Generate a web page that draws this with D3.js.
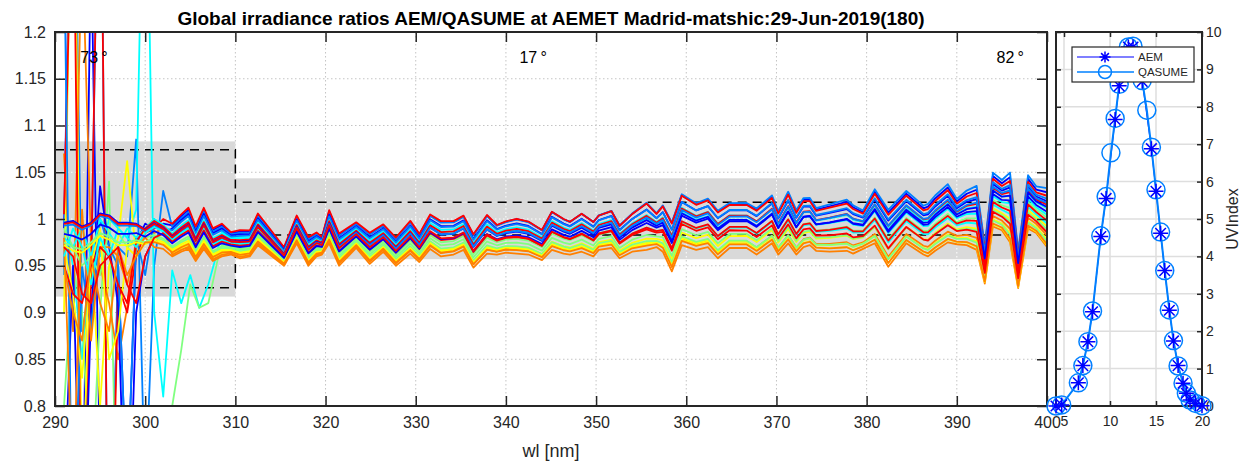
<!DOCTYPE html>
<html>
<head>
<meta charset="utf-8">
<script src="https://cdn.jsdelivr.net/npm/d3@7"></script>
<style>
  body { margin: 0; background: #fff; }
  text { font-family: "Liberation Sans", Arial, Helvetica, sans-serif; fill: #262626; }
</style>
</head>
<body>
<svg id="chart" width="1254" height="468"></svg>
<script>
// ---- ratio spectra: envelope of the bundle ----
const wlNodes  = [291,292,293,294,295,296,297,298,299,300,301,302,303,304,304.8,305.6,306.5,307.5,308.5,309.5,
  310.5,311.6,312.5,313.8,315.4,316.8,318.1,319.0,319.6,320.4,321.5,323.4,324.9,326.4,327.8,329.4,330.4,331.6,332.8,
  334.2,335.3,336.4,337.9,339.0,340.0,341.2,342.5,344.0,345.1,346.4,347.1,348.4,349.7,350.3,351.7,352.6,354.0,355.6,
  356.7,357.4,358.4,359.5,361.1,362.4,363.5,364.8,366.7,367.8,369.5,370.2,371.3,372.2,373.0,373.7,374.4,375.9,377.8,
  378.5,379.6,380.9,382.4,384.4,386.3,386.8,387.6,389.0,390.0,391.1,392.2,393.1,394.0,395.0,395.9,396.8,397.9,398.8,400.0];
const ratioTop = [1.02,1.03,1.02,1.02,1.03,1.03,1.02,1.02,1.015,1.005,1.013,1.005,0.995,1.005,1.012,0.992,1.012,0.990,0.995,0.986,
  0.988,0.988,1.006,0.990,0.970,1.004,0.981,0.986,0.981,1.010,0.985,0.997,0.986,0.995,0.981,0.999,0.985,1.006,0.999,
  0.999,1.005,0.985,1.006,0.995,0.999,1.002,0.999,0.990,1.010,1.002,0.999,1.008,0.999,1.006,1.011,0.995,1.008,1.020,
  1.008,1.017,0.999,1.029,1.019,1.024,1.011,1.019,1.019,1.013,1.027,1.010,1.031,1.011,1.024,1.024,1.013,1.017,1.022,
  1.016,1.010,1.033,1.011,1.031,1.015,1.017,1.026,1.038,1.022,1.031,1.036,0.972,1.050,1.042,1.050,0.966,1.047,1.035,1.033];
const ratioBot = [0.96,0.95,0.95,0.96,0.97,0.965,0.96,0.96,0.965,0.965,0.97,0.968,0.96,0.965,0.968,0.955,0.968,0.955,0.96,0.962,
  0.958,0.960,0.972,0.962,0.950,0.974,0.950,0.960,0.962,0.974,0.950,0.969,0.952,0.965,0.950,0.963,0.954,0.968,0.960,
  0.962,0.967,0.948,0.963,0.962,0.964,0.963,0.962,0.956,0.967,0.963,0.962,0.965,0.960,0.967,0.969,0.958,0.965,0.967,
  0.970,0.965,0.944,0.972,0.967,0.970,0.958,0.969,0.969,0.962,0.974,0.962,0.974,0.962,0.970,0.972,0.966,0.965,0.966,
  0.963,0.968,0.974,0.949,0.974,0.962,0.960,0.966,0.975,0.973,0.972,0.967,0.931,0.992,0.988,0.975,0.926,0.990,0.985,0.970];

// one entry per scan: colour, place in the bundle near 310 nm and near 400 nm (0 = bottom, 1 = top)
const jet7 = ["#0000ff","#0080ff","#00ffff","#80ff80","#ffff00","#ff8000","#ff0000"];
const scanColor  = [0,1,2,3,4,5,6,0,1,2,3,4,5,6,0,1,2,3,4,5,6,0,6];
const levelShort = [0.95,0.90,0.75,0.35,0.10,0.05,1.00,0.85,0.80,0.70,0.30,0.15,0.00,0.65,0.60,0.55,0.50,0.25,0.20,0.12,0.45,0.40,0.58];
const levelLong  = [0.93,1.00,0.66,0.50,0.35,0.20,0.87,0.78,0.82,0.55,0.30,0.13,0.00,0.72,0.60,0.75,0.40,0.10,0.03,0.05,0.45,0.68,0.25];
// noisy short-wavelength part of the low-sun scans, 1 nm steps from 291 nm
const noisyStart = 291;
const noisy = [
  [0.99,1.6,0.62,1.3,0.72,0.55,0.95,0.7,0.975,0.995,0.99,0.995],
  [0.94,2.2,0.88,0.93,1.5,0.5,0.97,0.96,1.085,0.7,0.95,1.03],
  [1.0,0.95,0.85,0.98,0.96,1.0,0.99,0.98,1.01,1.6,0.9,0.81,0.945,0.91,0.94,0.905,0.93,0.965],
  [0.8,0.95,0.9,0.7,0.9,1.04,0.6,0.72,0.6,0.55,0.65,0.74,0.80,0.86,0.93,0.905,0.91,0.955],
  [0.9,1.5,0.7,0.97,0.8,0.95,0.98,1.062,0.96,0.99,1.0,0.99],
  [1.07,0.88,1.3,0.97,0.95,0.91,0.85,0.905,0.98,0.99,0.985,0.99],
  [1.005,1.4,0.6,0.94,1.5,0.5,0.93,0.90,0.96,0.985,0.99,1.0],
  [0.7,0.95,0.6,0.9,1.035,0.97,0.91,0.6,0.9,0.96,0.98,0.985],
  [1.3,0.6,0.95,0.88,1.0,0.97,0.95,0.7,0.98,0.94,1.0,0.99],
  [0.98,0.97,0.99,0.96,1.0,0.985,0.97,0.99,0.98,0.99],
  [0.99,0.97,0.95,0.96,0.94,0.99,0.985,0.97,0.975,0.98],
  [0.97,0.92,0.83,0.95,0.99,0.85,0.88,0.97,0.96,0.975],
  [0.98,0.7,1.01,0.87,0.97,0.97,0.96,0.93,0.97,0.98],
  [0.95,0.92,0.91,0.95,0.97,0.96,0.93,0.91,0.975,0.99],
  null, null,
  [0.96,0.99,0.97,0.93,0.98,0.96,0.99,0.98,0.97,0.985],
  null, null,
  [0.95,0.90,0.87,0.96,0.91,0.88,0.97,0.94,0.96,0.975],
  [0.97,0.96,0.92,0.91,0.95,0.96,0.97,0.93,0.91,0.96,0.98],
  null, null
];

// limits: grey band and dashed line, for 290-310 and 310-400
const bandLo = [0.917, 0.957], bandHi = [1.083, 1.0435];
const dashLo = [0.9265, 0.983], dashHi = [1.074, 1.018];
const szaText = ["73\u2009°","17\u2009°","82\u2009°"];
const szaAt = [292.8, 341.5, 394.4];

// ---- UV index time series ----
const hours  = [4.13,4.75,6.56,7.05,7.6,8.1,9.0,9.58,10.1,10.56,11.0,12.0,12.5,13.5,14.0,14.5,15.0,15.5,15.95,16.45,16.9,17.4,17.94,18.3,18.7,19.3,20.0];
const uvQas  = [0.0,0.03,0.62,1.08,1.72,2.54,4.55,5.6,6.77,7.69,8.6,9.6,9.62,8.7,7.91,6.92,5.78,4.65,3.62,2.57,1.75,1.07,0.61,0.34,0.16,0.07,0.01];
const uvAem  = [0.0,0.03,0.62,1.08,1.72,2.52,4.53,5.55,null,7.66,8.56,9.6,9.6,8.68,null,6.88,5.74,4.62,3.62,2.56,1.74,1.08,0.61,0.34,0.16,0.07,0.01];

const xTicks = [290,300,310,320,330,340,350,360,370,380,390,400];
const yTicks = [0.8,0.85,0.9,0.95,1,1.05,1.1,1.15,1.2];

//--------------------------------------
const svg = d3.select("#chart");
const M = {left: 55, right: 1047, top: 32, bottom: 406};
const R = {left: 1056, right: 1202};
const axisCol = "#262626";

let x = d3.scaleLinear().domain([290, 400]).range([M.left, M.right]);
let y = d3.scaleLinear().domain([0.8, 1.2]).range([M.bottom, M.top]);

svg.append("clipPath").attr("id", "clipMain")
  .append("rect").attr("x", M.left).attr("y", M.top)
  .attr("width", M.right - M.left).attr("height", M.bottom - M.top);

// band rects
let bands = [[290, 310, 0], [310, 400, 1]];
svg.append("clipPath").attr("id", "clipBand").selectAll("rect")
  .data(bands).enter().append("rect")
  .attr("x", d => x(d[0])).attr("width", d => x(d[1]) - x(d[0]))
  .attr("y", d => y(bandHi[d[2]])).attr("height", d => y(bandLo[d[2]]) - y(bandHi[d[2]]));

function drawGrid(g, col) {
  g.selectAll(".gx").data(xTicks.slice(1, -1)).enter().append("line")
    .attr("x1", d => x(d)).attr("x2", d => x(d)).attr("y1", M.top).attr("y2", M.bottom);
  g.selectAll(".gy").data(yTicks.slice(1, -1)).enter().append("line")
    .attr("y1", d => y(d)).attr("y2", d => y(d)).attr("x1", M.left).attr("x2", M.right);
  g.selectAll("line").attr("stroke", col).attr("stroke-width", 1).attr("stroke-dasharray", "1.5,2.5");
}
drawGrid(svg.append("g"), "#c4c4c4");

svg.append("g").selectAll("rect").data(bands).enter().append("rect")
  .attr("x", d => x(d[0])).attr("width", d => x(d[1]) - x(d[0]))
  .attr("y", d => y(bandHi[d[2]])).attr("height", d => y(bandLo[d[2]]) - y(bandHi[d[2]]))
  .attr("fill", "#d9d9d9");
drawGrid(svg.append("g").attr("clip-path", "url(#clipBand)"), "#ffffff");

// dashed limits
let stair = d3.line().x(d => x(d[0])).y(d => y(d[1]));
[dashHi, dashLo].forEach(function(lim) {
  svg.append("path")
    .attr("d", stair([[290, lim[0]], [310, lim[0]], [310, lim[1]], [400, lim[1]]]))
    .attr("fill", "none").attr("stroke", "#000").attr("stroke-width", 1.5)
    .attr("stroke-dasharray", "9,6");
});

// spectra
function scanPoints(i) {
  let pts = [];
  let lastNoisy = -Infinity;
  if (noisy[i]) {
    noisy[i].forEach(function(v, k) { pts.push([noisyStart + k, v]); });
    lastNoisy = noisyStart + noisy[i].length - 1;
  }
  wlNodes.forEach(function(w, j) {
    if (w <= lastNoisy + 0.3) return;
    let t = w < 310 ? 0 : (w - 310) / 90;
    let f = levelShort[i] + (levelLong[i] - levelShort[i]) * t;
    pts.push([w, ratioBot[j] + f * (ratioTop[j] - ratioBot[j])]);
  });
  return pts;
}
let ratioLine = d3.line().x(d => x(d[0])).y(d => y(Math.max(0.5, Math.min(1.5, d[1]))));
let gLines = svg.append("g").attr("clip-path", "url(#clipMain)");
scanColor.forEach(function(c, i) {
  gLines.append("path")
    .attr("d", ratioLine(scanPoints(i)))
    .attr("fill", "none").attr("stroke", jet7[c])
    .attr("stroke-width", 1.8).attr("stroke-linejoin", "round");
});

// sza labels
svg.append("g").selectAll("text").data(szaText).enter().append("text")
  .attr("x", (d, i) => x(szaAt[i])).attr("y", 63)
  .style("font-size", "16px").style("fill", "#000").text(d => d);

// axes main
let fmt = d => String(+d.toFixed(2));
svg.append("g").attr("transform", "translate(0," + M.bottom + ")")
  .call(d3.axisBottom(x).tickValues(xTicks).tickSize(-10).tickSizeOuter(0).tickPadding(11).tickFormat(d3.format("d")))
  .call(g => g.select(".domain").remove());
svg.append("g").attr("transform", "translate(0," + M.top + ")")
  .call(d3.axisTop(x).tickValues(xTicks).tickSize(-10).tickSizeOuter(0).tickFormat(""))
  .call(g => g.select(".domain").remove());
svg.append("g").attr("transform", "translate(" + M.left + ",0)")
  .call(d3.axisLeft(y).tickValues(yTicks).tickSize(-10).tickSizeOuter(0).tickPadding(9).tickFormat(fmt))
  .call(g => g.select(".domain").remove());
svg.append("g").attr("transform", "translate(" + M.right + ",0)")
  .call(d3.axisRight(y).tickValues(yTicks).tickSize(-10).tickSizeOuter(0).tickFormat(""))
  .call(g => g.select(".domain").remove());
svg.selectAll(".tick line").attr("stroke", axisCol).attr("stroke-width", 1.5);
svg.selectAll(".tick text").style("font-size", "16px").style("fill", axisCol);
svg.append("rect").attr("x", M.left).attr("y", M.top)
  .attr("width", M.right - M.left).attr("height", M.bottom - M.top)
  .attr("fill", "none").attr("stroke", axisCol).attr("stroke-width", 2);

svg.append("text").attr("x", (M.left + M.right) / 2).attr("y", 25)
  .attr("text-anchor", "middle").style("font-size", "19px").style("font-weight", "bold").style("fill", "#000")
  .text("Global irradiance ratios AEM/QASUME at AEMET Madrid-matshic:29-Jun-2019(180)");
svg.append("text").attr("x", (M.left + M.right) / 2).attr("y", 457)
  .attr("text-anchor", "middle").style("font-size", "18px").text("wl [nm]");

// ---- right panel: UV index ----
let xu = d3.scaleLinear().domain(d3.extent(hours)).range([R.left, R.right]);
let yu = d3.scaleLinear().domain([0, 10]).range([M.bottom, M.top]);
let gR = svg.append("g");
gR.selectAll(".gx").data([5, 10, 15, 20]).enter().append("line")
  .attr("x1", d => xu(d)).attr("x2", d => xu(d)).attr("y1", M.top).attr("y2", M.bottom)
  .attr("stroke", "#dedede").attr("stroke-width", 1.5);
gR.selectAll(".gy").data(d3.range(1, 10)).enter().append("line")
  .attr("y1", d => yu(d)).attr("y2", d => yu(d)).attr("x1", R.left).attr("x2", R.right)
  .attr("stroke", "#dedede").attr("stroke-width", 1.5);

let gAx = svg.append("g");
gAx.append("g").attr("transform", "translate(0," + M.bottom + ")")
  .call(d3.axisBottom(xu).tickValues([5, 10, 15, 20]).tickSize(-5).tickSizeOuter(0).tickPadding(10))
  .call(g => g.select(".domain").remove());
gAx.append("g").attr("transform", "translate(0," + M.top + ")")
  .call(d3.axisTop(xu).tickValues([5, 10, 15, 20]).tickSize(-5).tickSizeOuter(0).tickFormat(""))
  .call(g => g.select(".domain").remove());
gAx.append("g").attr("transform", "translate(" + R.right + ",0)")
  .call(d3.axisRight(yu).tickValues(d3.range(0, 11)).tickSize(-5).tickSizeOuter(0).tickPadding(4))
  .call(g => g.select(".domain").remove());
gAx.append("g").attr("transform", "translate(" + R.left + ",0)")
  .call(d3.axisLeft(yu).tickValues(d3.range(0, 11)).tickSize(-5).tickSizeOuter(0).tickFormat(""))
  .call(g => g.select(".domain").remove());
gAx.selectAll(".tick line").attr("stroke", axisCol).attr("stroke-width", 1.5);
gAx.selectAll(".tick text").style("font-size", "14px").style("fill", axisCol);
gAx.append("rect").attr("x", R.left).attr("y", M.top)
  .attr("width", R.right - R.left).attr("height", M.bottom - M.top)
  .attr("fill", "none").attr("stroke", axisCol).attr("stroke-width", 2);
svg.append("text").attr("transform", "translate(1238," + (M.top + M.bottom) / 2 + ") rotate(-90)")
  .attr("text-anchor", "middle").style("font-size", "16px").text("UVIndex");

function asterisk(r) {
  let d = r * 0.7071;
  return "M0," + (-r) + "V" + r + "M" + (-r) + ",0H" + r +
    "M" + (-d) + "," + (-d) + "L" + d + "," + d + "M" + (-d) + "," + d + "L" + d + "," + (-d);
}
let qasCol = "#0080ff", aemCol = "#0000ff";
let qasPts = hours.map((h, i) => [h, uvQas[i]]);
let aemPts = hours.map((h, i) => [h, uvAem[i]]).filter(d => d[1] !== null);
let uvLine = d3.line().x(d => xu(d[0])).y(d => yu(d[1]));

svg.append("path").attr("d", uvLine(aemPts)).attr("fill", "none")
  .attr("stroke", aemCol).attr("stroke-width", 1);
svg.append("path").attr("d", uvLine(qasPts)).attr("fill", "none")
  .attr("stroke", qasCol).attr("stroke-width", 2);
svg.append("g").selectAll("circle").data(qasPts).enter().append("circle")
  .attr("cx", d => xu(d[0])).attr("cy", d => yu(d[1])).attr("r", 9)
  .attr("fill", "none").attr("stroke", qasCol).attr("stroke-width", 1.5);
svg.append("g").selectAll("path").data(aemPts).enter().append("path")
  .attr("transform", d => "translate(" + xu(d[0]) + "," + yu(d[1]) + ")")
  .attr("d", asterisk(7.5)).attr("stroke", aemCol).attr("stroke-width", 1.5);

// legend
let lg = svg.append("g").attr("transform", "translate(1072,47)");
lg.append("rect").attr("width", 122).attr("height", 35).attr("fill", "#fff")
  .attr("stroke", axisCol).attr("stroke-width", 1.2);
lg.append("line").attr("x1", 5).attr("x2", 62).attr("y1", 10).attr("y2", 10).attr("stroke", aemCol).attr("stroke-width", 1.2);
lg.append("path").attr("transform", "translate(33,10)").attr("d", asterisk(5.5)).attr("stroke", aemCol).attr("stroke-width", 1.5);
lg.append("line").attr("x1", 5).attr("x2", 62).attr("y1", 25).attr("y2", 25).attr("stroke", qasCol).attr("stroke-width", 1.5);
lg.append("circle").attr("cx", 33).attr("cy", 25).attr("r", 6.5).attr("fill", "none").attr("stroke", qasCol).attr("stroke-width", 1.5);
lg.append("text").attr("x", 66).attr("y", 14).style("font-size", "11.5px").text("AEM");
lg.append("text").attr("x", 66).attr("y", 29).style("font-size", "11.5px").text("QASUME");
</script>
</body>
</html>
